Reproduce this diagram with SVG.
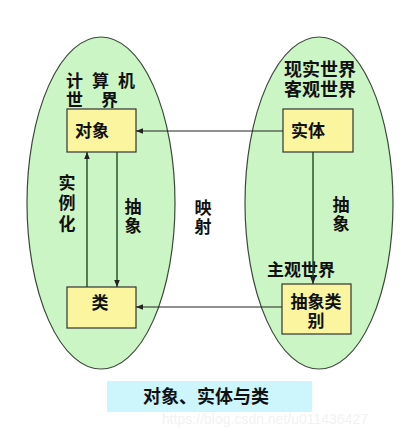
<svg xmlns="http://www.w3.org/2000/svg" width="403" height="436" viewBox="0 0 403 436">
<style>
.world{fill:#ccf5c6;stroke:#3a4a3a;stroke-width:1.2}
.box{fill:#fbf59f;stroke:#333;stroke-width:1.2}
.t{font-family:"Liberation Sans","Noto Sans CJK SC","Noto Sans CJK JP",sans-serif;font-weight:bold;fill:#111;font-size:17px}
.c{text-anchor:middle}
.v{writing-mode:vertical-rl;text-anchor:start;letter-spacing:2px}
.hl{stroke:#222;stroke-width:1.2;fill:none}
.vl{stroke:#1f4a1f;stroke-width:1.4;fill:none}
</style>
<defs>
<marker id="ah" viewBox="0 0 10 10" refX="10" refY="5" markerWidth="7" markerHeight="7" orient="auto" markerUnits="userSpaceOnUse">
<path d="M0,1 L10,5 L0,9 z" fill="#222"/>
</marker>
</defs>
<rect width="403" height="436" fill="#fff"/>
<g id="computer-world">
<ellipse class="world" cx="101" cy="203" rx="74" ry="166"/>
<text class="t"><tspan x="66" y="87" style="letter-spacing:9px">计算机</tspan><tspan x="66" y="106" style="letter-spacing:18px">世界</tspan></text>
</g>
<g id="real-world">
<ellipse class="world" cx="319" cy="203" rx="74" ry="166"/>
<text class="t c" style="font-size:18px"><tspan x="320" y="76">现实世界</tspan><tspan x="320" y="96">客观世界</tspan></text>
<text class="t c" x="301" y="276">主观世界</text>
</g>
<g id="object">
<rect class="box" x="67" y="109" width="69" height="43"/>
<text class="t" x="75" y="137">对象</text>
</g>
<g id="entity">
<rect class="box" x="283" y="109" width="70" height="43"/>
<text class="t" x="291" y="137">实体</text>
</g>
<g id="class">
<rect class="box" x="67" y="287" width="69" height="41"/>
<text class="t c" x="100" y="309">类</text>
</g>
<g id="abstract-class">
<rect class="box" x="282" y="284" width="69" height="50"/>
<text class="t c"><tspan x="316" y="308">抽象类</tspan><tspan x="316" y="327">别</tspan></text>
</g>
<g id="connectors">
<line class="hl" x1="283" y1="131" x2="136" y2="131" marker-end="url(#ah)"/>
<line class="hl" x1="282" y1="307" x2="136" y2="307" marker-end="url(#ah)"/>
<line class="vl" x1="87" y1="287" x2="87" y2="152" marker-end="url(#ah)"/>
<line class="vl" x1="117" y1="152" x2="117" y2="287" marker-end="url(#ah)"/>
<line class="vl" x1="313" y1="152" x2="313" y2="284" marker-end="url(#ah)"/>
<text class="t v" x="65" y="174" style="letter-spacing:3.5px">实例化</text>
<text class="t v" x="131" y="198">抽象</text>
<text class="t v" x="201" y="199">映射</text>
<text class="t v" x="339" y="196">抽象</text>
</g>
<g id="caption">
<rect x="107" y="381" width="205" height="31" fill="#ccf6fb"/>
<text class="t" x="143" y="403" style="font-size:18px">对象、实体与类</text>
</g>
<text x="162" y="424" font-family="Liberation Sans, sans-serif" font-size="14" fill="#f2f2f2">https://blog.csdn.net/u011436427</text>
</svg>
